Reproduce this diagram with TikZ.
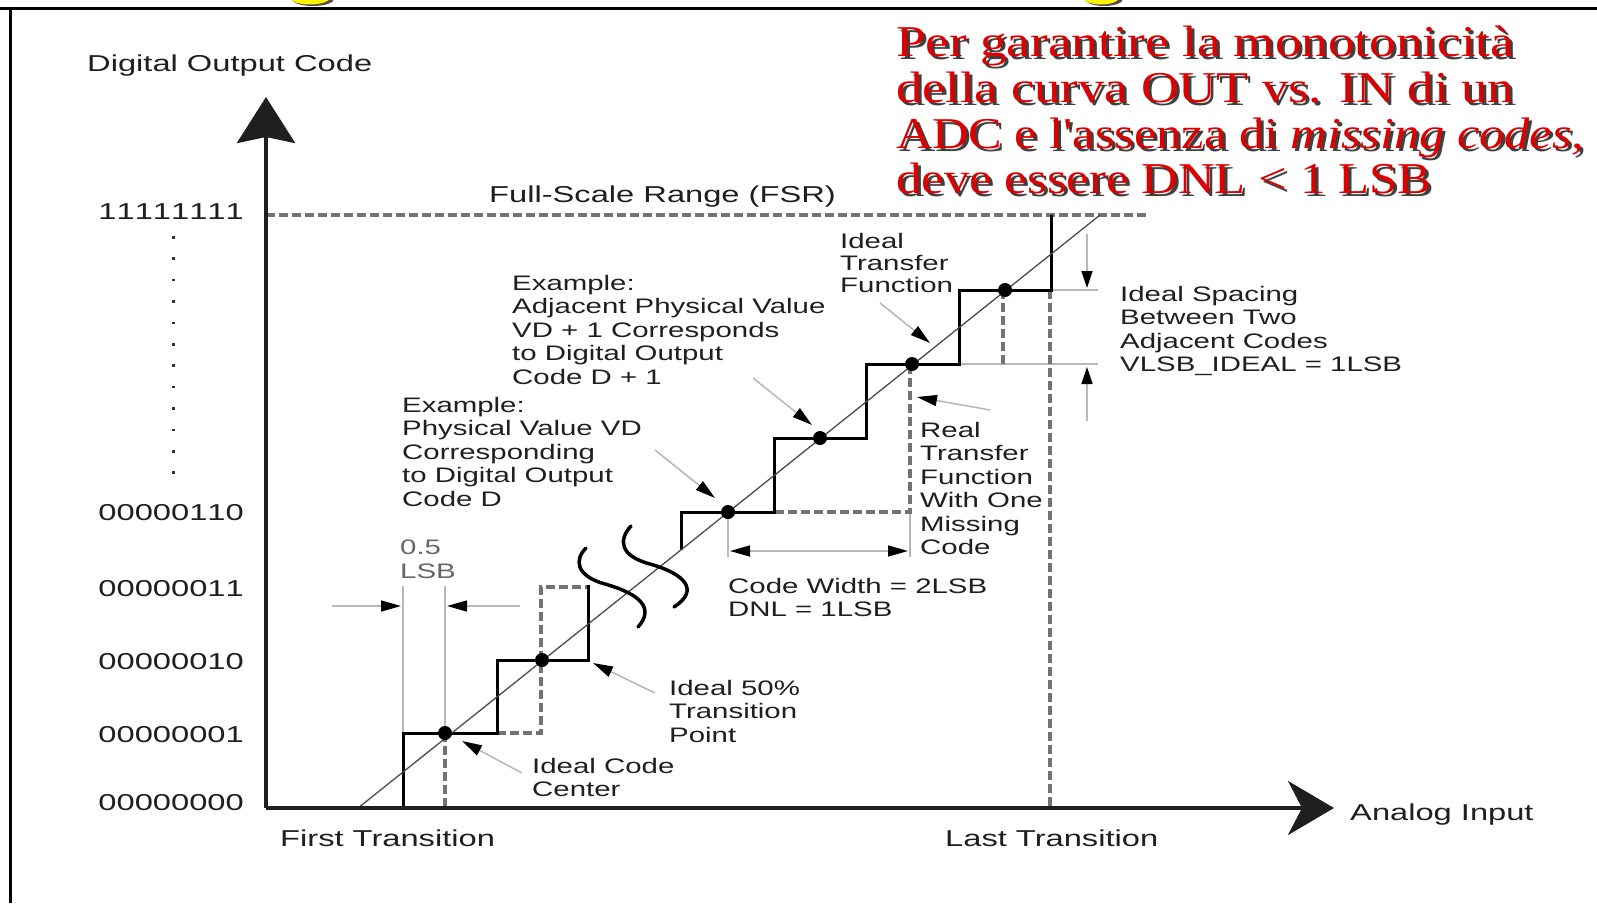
\documentclass[tikz,border=0pt]{standalone}
\usepackage{fontspec}
\setmainfont{Liberation Sans}
\newfontfamily\labfont[FakeStretch=1.4]{Liberation Sans}
\newfontfamily\axfont[FakeStretch=1.42]{Liberation Sans}
\newfontfamily\codefont[FakeStretch=1.42,Kerning=Off]{Liberation Sans}
\newfontfamily\redfont[FakeStretch=1.2]{Liberation Serif}
\usetikzlibrary{arrows.meta}
\definecolor{redtext}{RGB}{222,0,0}
\tikzset{
  ax/.style={line width=4pt, draw=black!88},
  stair/.style={line width=3pt, draw=black, line join=miter},
  realfn/.style={line width=4pt, draw=black!55, dash pattern=on 9pt off 4pt},
  diag/.style={line width=1.3pt, draw=black!70},
  helper/.style={line width=1.5pt, draw=black!28},
  tipb/.tip={Triangle[length=20pt,width=11pt,color=black]},
  leader/.style={helper, -tipb},
  lab/.style={font=\labfont\fontsize{21}{23.5}\selectfont, align=left, inner sep=0pt, anchor=north west, text=black!88},
  axlab/.style={font=\axfont\fontsize{23}{26}\selectfont, inner sep=0pt, text=black!88},
  codelab/.style={font=\codefont\fontsize{23}{26}\selectfont, inner sep=0pt, text=black!88, anchor=base east},
  codept/.style={circle, fill=black, minimum size=14pt, inner sep=0pt},
  redline/.style={font=\redfont\fontsize{44}{46}\selectfont, inner sep=0pt, anchor=base west, text=redtext},
  shadowline/.style={font=\redfont\fontsize{44}{46}\selectfont, inner sep=0pt, anchor=base west, text=black!75},
  breakmark/.style={line width=3.5pt, draw=black, line cap=round}
}
\newcommand{\redA}{\resizebox{618pt}{\height}{Per garantire la monotonicità}}
\newcommand{\redB}{\resizebox{618pt}{\height}{della curva OUT vs. IN di un}}
\newcommand{\redC}{\resizebox{688pt}{\height}{ADC e l'assenza di \itshape missing codes,}}
\newcommand{\redD}{\resizebox{535pt}{\height}{deve essere DNL < 1 LSB}}
\begin{document}
\begin{tikzpicture}[x=1pt,y=-1pt]
\useasboundingbox (0,0) rectangle (1597,903);
\fill[white] (0,0) rectangle (1597,903);
% cut-off yellow shapes at the top
\begin{scope}
  \clip (0,0) rectangle (1597,8);
  \fill[black!70] (313,-1) ellipse [x radius=21, y radius=7];
  \fill[yellow] (310,-2.5) ellipse [x radius=20, y radius=7];
  \fill[black!70] (1104,-1) ellipse [x radius=19, y radius=7];
  \fill[yellow] (1101,-2.5) ellipse [x radius=18, y radius=7];
\end{scope}
% frame
\draw[line width=3pt] (0,8) -- (1597,8);
\draw[line width=3pt] (10,8) -- (10,903);

% coordinates
\coordinate (O) at (266,808);
\coordinate (Ytip) at (266,97);
\coordinate (Xtip) at (1334,808);

% helper (light grey) lines
\draw[helper] (403,733) -- (403,586);
\draw[helper] (445,733) -- (445,586);
\draw[helper,-tipb] (332,606) -- (401,606);
\draw[helper,-tipb] (520,606) -- (447,606);
\draw[helper] (728,512) -- (728,557);
\draw[helper] (910,512) -- (910,557);
\draw[helper,tipb-tipb] (730,551) -- (908,551);
\draw[helper] (1051,290) -- (1098,290);
\draw[helper] (959,364) -- (1098,364);
\draw[helper,-{Triangle[length=17pt,width=11pt,color=black]}] (1087,234) -- (1087,288);
\draw[helper,-{Triangle[length=17pt,width=11pt,color=black]}] (1087,421) -- (1087,367);

% real transfer function (dashed)
\draw[realfn] (266,215) -- (1146,215);
\draw[realfn] (445,733) -- (445,806);
\draw[realfn] (497,733) -- (541,733) -- (541,587) -- (588,587);
\draw[realfn] (775,512) -- (910,512) -- (910,364);
\draw[realfn] (1003,290) -- (1003,364);
\draw[realfn] (1050,290) -- (1050,806);

% ideal staircase
\draw[stair] (403,806) -- (403,733) -- (497,733) -- (497,660) -- (588,660) -- (588,585);
\draw[stair] (681,550) -- (681,512) -- (774,512) -- (774,438) -- (866,438) -- (866,364) -- (959,364) -- (959,290) -- (1051,290) -- (1051,215);

% diagonal
\draw[diag] (358,808) -- (1100,215);

% break marks
\draw[breakmark] (586,548) .. controls (574,560) and (576,576) .. (605,584) .. controls (640,594) and (655,608) .. (638,627);
\draw[breakmark] (631,526) .. controls (618,540) and (620,556) .. (650,564) .. controls (685,574) and (700,590) .. (674,607);

% axes
\draw[ax,-{Stealth[length=46pt,width=58pt,inset=6pt]}] (O) -- (Ytip);
\draw[ax,-{Stealth[length=46pt,width=54pt,inset=14pt]}] (O) -- (Xtip);

% code points
\node[codept] (c1) at (445,733) {};
\node[codept] (c2) at (542,660) {};
\node[codept] (cD) at (728,512) {};
\node[codept] (cD1) at (820,438) {};
\node[codept] (cD2) at (912,364) {};
\node[codept] (c5) at (1005,290) {};

% axis labels
\node[axlab,anchor=base west] (ylab) at (87,71) {Digital Output Code};
\node[axlab,anchor=base west] (fsr) at (489,202) {Full-Scale Range (FSR)};
\node[axlab,anchor=base west] (first) at (280,846) {First Transition};
\node[axlab,anchor=base west] (last) at (945,846) {Last Transition};
\node[axlab,anchor=base west] (xlab) at (1350,820) {Analog Input};
\node[codelab] (k255) at (244,219) {11111111};
\node[codelab] (k6) at (244,520) {00000110};
\node[codelab] (k3) at (244,596) {00000011};
\node[codelab] (k2) at (244,669) {00000010};
\node[codelab] (k1) at (244,742) {00000001};
\node[codelab] (k0) at (244,810) {00000000};
\foreach \i in {0,...,11} {
  \fill[black!80] (171.5,{236+\i*21.4}) rectangle (174.5,{238.5+\i*21.4});
}

% annotation labels
\node[lab] (exD1) at (512,275) {Example:\\Adjacent Physical Value\\VD + 1 Corresponds\\to Digital Output\\Code D + 1};
\node[lab] (exD) at (402,397) {Example:\\Physical Value VD\\Corresponding\\to Digital Output\\Code D};
\node[lab,font=\labfont\fontsize{21}{22}\selectfont] (itf) at (840,233) {Ideal\\Transfer\\Function};
\node[lab] (rtf) at (920,422) {Real\\Transfer\\Function\\With One\\Missing\\Code};
\node[lab] (cw) at (728,578) {Code Width = 2LSB\\DNL = 1LSB};
\node[lab,text=black!60] (half) at (400,540) {0.5\\LSB};
\node[lab] (i50) at (669,680) {Ideal 50\%\\Transition\\Point};
\node[lab] (icc) at (532,758) {Ideal Code\\Center};
\node[lab] (isp) at (1120,286) {Ideal Spacing\\Between Two\\Adjacent Codes\\VLSB\_IDEAL = 1LSB};

% leaders
\coordinate (aicc) at (522,773);  \coordinate (ticc) at (462,741);
\coordinate (ai50) at (655,693);  \coordinate (ti50) at (593,663);
\coordinate (aexD) at (655,450);  \coordinate (texD) at (715,498);
\coordinate (aexD1) at (753,378); \coordinate (texD1) at (812,425);
\coordinate (aitf) at (880,303);  \coordinate (titf) at (930,343);
\coordinate (artf) at (990,410);  \coordinate (trtf) at (917,397);
\draw[leader] (aicc) -- (ticc);
\draw[leader] (ai50) -- (ti50);
\draw[leader] (aexD) -- (texD);
\draw[leader] (aexD1) -- (texD1);
\draw[leader] (aitf) -- (titf);
\draw[leader] (artf) -- (trtf);

% red statement with shadow
\node[shadowline] (s1) at (899,59.5) {\redA};
\node[shadowline] (s2) at (899,105) {\redB};
\node[shadowline] (s3) at (899,151) {\redC};
\node[shadowline] (s4) at (899,196.5) {\redD};
\node[redline] (r1) at (896,56.5) {\redA};
\node[redline] (r2) at (896,102) {\redB};
\node[redline] (r3) at (896,148) {\redC};
\node[redline] (r4) at (896,193.5) {\redD};
\end{tikzpicture}
\end{document}
